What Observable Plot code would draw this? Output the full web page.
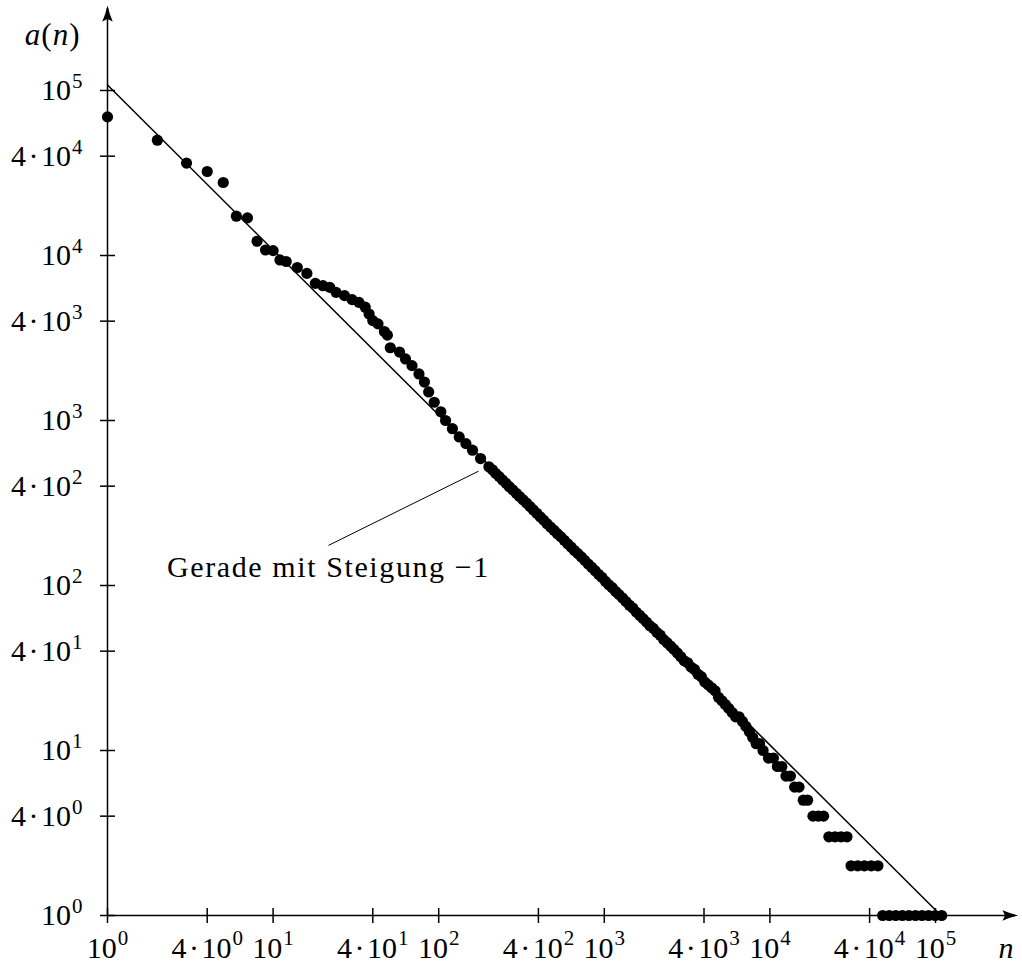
<!DOCTYPE html>
<html>
<head>
<meta charset="utf-8">
<script src="https://cdn.jsdelivr.net/npm/d3@7"></script>
<script src="https://cdn.jsdelivr.net/npm/@observablehq/plot@0.6"></script>
<style>
  html, body { margin: 0; padding: 0; background: #fff; }
  #chart svg { display: block; }
  .annotation text { letter-spacing: 1.6px; }
</style>
</head>
<body>
<div id="chart"></div>
<script>
// Rank n and frequency a(n) of the sampled ranks (rank–frequency plot, log–log).
const rankN = [
  1, 2, 3, 4, 5, 6, 7, 8, 9, 10, 11, 12, 14, 16, 18, 20, 22, 24, 27, 30, 33, 36,
  38, 40, 43, 47, 49, 51, 58, 63, 69, 76, 82, 87, 94, 103, 110, 121, 133, 146, 160, 179,
  201, 211, 221, 232, 243, 255, 267, 280, 294, 308, 323, 339, 356, 373, 391, 410, 430, 451,
  473, 497, 521, 547, 573, 601, 630, 661, 693, 727, 762, 800, 839, 880, 923, 968,
  1015, 1065, 1117, 1172, 1228, 1289, 1351, 1418, 1486, 1559, 1635, 1715, 1798, 1886, 1978, 2075,
  2176, 2283, 2394, 2511, 2633, 2762, 2896, 3038, 3186, 3342, 3505, 3676, 3855, 4043, 4241, 4448,
  4665, 4893, 5131, 5382, 5644, 5920, 6209, 6512, 6830, 7163, 7513, 7880, 8264, 8668, 9090,
  9800, 10500, 11100, 11800, 12500, 13300, 14100, 15000, 15900, 16900,
  18200, 19600, 21100, 22700, 24700, 26900, 29200,
  30900, 33900, 37200, 40900, 44900,
  47970, 52550, 57570, 63070, 69090, 75690, 82920, 90840, 99510, 109000
];
const freqA = [
  69200, 50000, 36300, 32300, 27700, 17300, 16900, 12200, 10800, 10700, 9400, 9200, 8460, 7790, 6780, 6560, 6410, 5980, 5710, 5400, 5200, 4860,
  4420, 4030, 3850, 3460, 3290, 2760, 2600, 2360, 2150, 1915, 1710, 1490, 1290, 1130, 1000, 892, 795, 724, 661, 588,
  524, 503, 478, 457, 436, 416, 397, 380, 362, 346, 331, 316, 301, 287, 274, 261, 249, 237,
  226, 216, 206, 197, 188, 179, 171, 163, 156, 149, 142, 135, 129, 123, 117, 112,
  106, 101, 97, 92, 88, 84, 80, 76, 73, 69, 66, 63, 60, 57, 55, 52,
  50, 47, 45, 43, 41, 39, 37, 35, 34, 32, 31, 29, 28, 26, 25, 24,
  23, 21, 20, 19, 18, 17, 16, 16, 15, 14, 13, 12, 11, 11, 10,
  9, 9, 8, 8, 7, 7, 6, 6, 5, 5,
  4, 4, 4, 3, 3, 3, 3,
  2, 2, 2, 2, 2,
  1, 1, 1, 1, 1, 1, 1, 1, 1, 1
];

// Reference line of slope -1: end points (n, a).
const slopeLineN = [1, 100000];
const slopeLineA = [108000, 1.08];

// Axis ticks: value = mantissa · 10^exponent
const tickValues   = [1, 4, 10, 40, 100, 400, 1000, 4000, 10000, 40000, 100000];
const tickMantissa = ["", "4\u200A·\u200A", "", "4\u200A·\u200A", "", "4\u200A·\u200A", "", "4\u200A·\u200A", "", "4\u200A·\u200A", ""];
const tickExponent = ["0", "0", "1", "1", "2", "2", "3", "3", "4", "4", "5"];

const annotationText = "Gerade mit Steigung −1";
// y-axis title a(n): italic symbols, upright parentheses
const yTitleParts = [["a", "italic"], ["(", "normal"], ["n", "italic"], [")", "normal"]];
const xTitle = "n";

// ---------------------------------------------------------------------------
const points = rankN.map((n, i) => ({n, a: freqA[i]}));
const slopeLine = slopeLineN.map((n, i) => ({n, a: slopeLineA[i]}));
const ticks = tickValues.map((v, i) => ({v, base: tickMantissa[i] + "10", exp: tickExponent[i]}));

const FONT = "'Liberation Serif', 'Times New Roman', serif";
const BASE_SIZE = 30;
const EXP_SIZE = 21;
const INK = "#000";

const measureCtx = document.createElement("canvas").getContext("2d");
function textWidth(s, size, style = "normal") {
  measureCtx.font = `${style} ${size}px ${FONT}`;
  return measureCtx.measureText(s).width;
}

const W = 1022, H = 968;
const frameLeft = 107, frameRight = 1015, frameTop = 8, frameBottom = 915;
const xMax = Math.pow(10, (frameRight - frameLeft) / 165.6);
const yMax = Math.pow(10, (frameBottom - frameTop) / 165.0);

// Filled arrow head pointing right, tip slightly past the origin.
const arrowHead = {
  draw(c) {
    c.moveTo(3, 0);
    c.quadraticCurveTo(-5, -1.8, -13, -5.2);
    c.lineTo(-10.5, 0);
    c.lineTo(-13, 5.2);
    c.quadraticCurveTo(-5, 1.8, 3, 0);
    c.closePath();
  }
};
// Tick marks crossing the axis line.
const vTick = { draw(c) { c.moveTo(0, -7.5); c.lineTo(0, 7.5); } };
const hTick = { draw(c) { c.moveTo(-7.5, 0); c.lineTo(7.5, 0); } };

// Tick label layout: "10" or "4·10" followed by a raised exponent.
const expW = d3.max(ticks, d => textWidth(d.exp, EXP_SIZE));
const plainTicks = ticks.filter(d => d.base === "10");
const scaledTicks = ticks.filter(d => d.base !== "10");
function centredOffset(group) {
  const bw = textWidth(group[0].base, BASE_SIZE);
  const total = bw + 1 + expW;
  return total / 2 - expW - 1;   // right edge of the base text relative to the tick
}
const plainOff = centredOffset(plainTicks);
const scaledOff = centredOffset(scaledTicks);

const xLabelDy = 33, expRaise = 10;
const yLabelRight = -25;

// a(n) pieces laid out right-aligned 27px left of the y axis
const yTitleSize = 31;
const yTitleWidths = yTitleParts.map(([s, st]) => textWidth(s, yTitleSize, st) + 1);
const yTitleTotal = d3.sum(yTitleWidths);
let run = -27 - yTitleTotal;
const yTitleMarks = yTitleParts.map(([s, st], i) => {
  const m = Plot.text([s], {frameAnchor: "top-left", text: d => d, fontSize: yTitleSize, fontStyle: st,
    textAnchor: "start", lineAnchor: "middle", dx: run, dy: 27, fill: INK});
  run += yTitleWidths[i];
  return m;
});

const chart = Plot.plot({
  width: W,
  height: H,
  marginLeft: frameLeft,
  marginRight: W - frameRight,
  marginTop: frameTop,
  marginBottom: H - frameBottom,
  style: {fontFamily: FONT, background: "#fff", color: INK, overflow: "visible"},
  x: {type: "log", domain: [1, xMax], axis: null},
  y: {type: "log", domain: [1, yMax], axis: null},
  marks: [
    // axes
    Plot.ruleY([1], {stroke: INK, strokeWidth: 1.5}),
    Plot.ruleX([1], {stroke: INK, strokeWidth: 1.5}),
    Plot.dot([xMax], {x: d => d, y: 1, symbol: arrowHead, fill: INK, stroke: null}),
    Plot.dot([yMax], {x: 1, y: d => d, symbol: arrowHead, rotate: -90, fill: INK, stroke: null}),
    Plot.dot(ticks, {x: "v", y: 1, symbol: vTick, fill: "none", stroke: INK, strokeWidth: 1.5}),
    Plot.dot(ticks, {x: 1, y: "v", symbol: hTick, fill: "none", stroke: INK, strokeWidth: 1.5}),

    // x tick labels
    Plot.text(plainTicks, {x: "v", y: 1, text: "base", fontSize: BASE_SIZE, textAnchor: "end", lineAnchor: "middle", dx: plainOff, dy: xLabelDy, fill: INK}),
    Plot.text(plainTicks, {x: "v", y: 1, text: "exp", fontSize: EXP_SIZE, textAnchor: "start", lineAnchor: "middle", dx: plainOff + 1, dy: xLabelDy - expRaise, fill: INK}),
    Plot.text(scaledTicks, {x: "v", y: 1, text: "base", fontSize: BASE_SIZE, textAnchor: "end", lineAnchor: "middle", dx: scaledOff, dy: xLabelDy, fill: INK}),
    Plot.text(scaledTicks, {x: "v", y: 1, text: "exp", fontSize: EXP_SIZE, textAnchor: "start", lineAnchor: "middle", dx: scaledOff + 1, dy: xLabelDy - expRaise, fill: INK}),

    // y tick labels
    Plot.text(ticks, {x: 1, y: "v", text: "base", fontSize: BASE_SIZE, textAnchor: "end", lineAnchor: "middle", dx: yLabelRight - expW - 1, fill: INK}),
    Plot.text(ticks, {x: 1, y: "v", text: "exp", fontSize: EXP_SIZE, textAnchor: "end", lineAnchor: "middle", dx: yLabelRight, dy: -expRaise + 1, fill: INK}),

    // axis titles
    ...yTitleMarks,
    Plot.text([xTitle], {frameAnchor: "bottom-right", text: d => d, fontSize: BASE_SIZE, fontStyle: "italic", textAnchor: "end", lineAnchor: "middle", dx: -2, dy: xLabelDy, fill: INK}),

    // slope -1 reference line
    Plot.line(slopeLine, {x: "n", y: "a", stroke: INK, strokeWidth: 1.5}),

    // annotation and its pointer
    Plot.link([0], {x1: 21.6, y1: 175, x2: 174, y2: 493, stroke: INK, strokeWidth: 1}),
    Plot.text([annotationText], {x: 21.6, y: 128, text: d => d, fontSize: BASE_SIZE, textAnchor: "middle", lineAnchor: "middle", fill: INK, className: "annotation"}),

    // data
    Plot.dot(points, {x: "n", y: "a", r: 5.6, fill: INK, stroke: null})
  ]
});

document.getElementById("chart").append(chart);
</script>
</body>
</html>
